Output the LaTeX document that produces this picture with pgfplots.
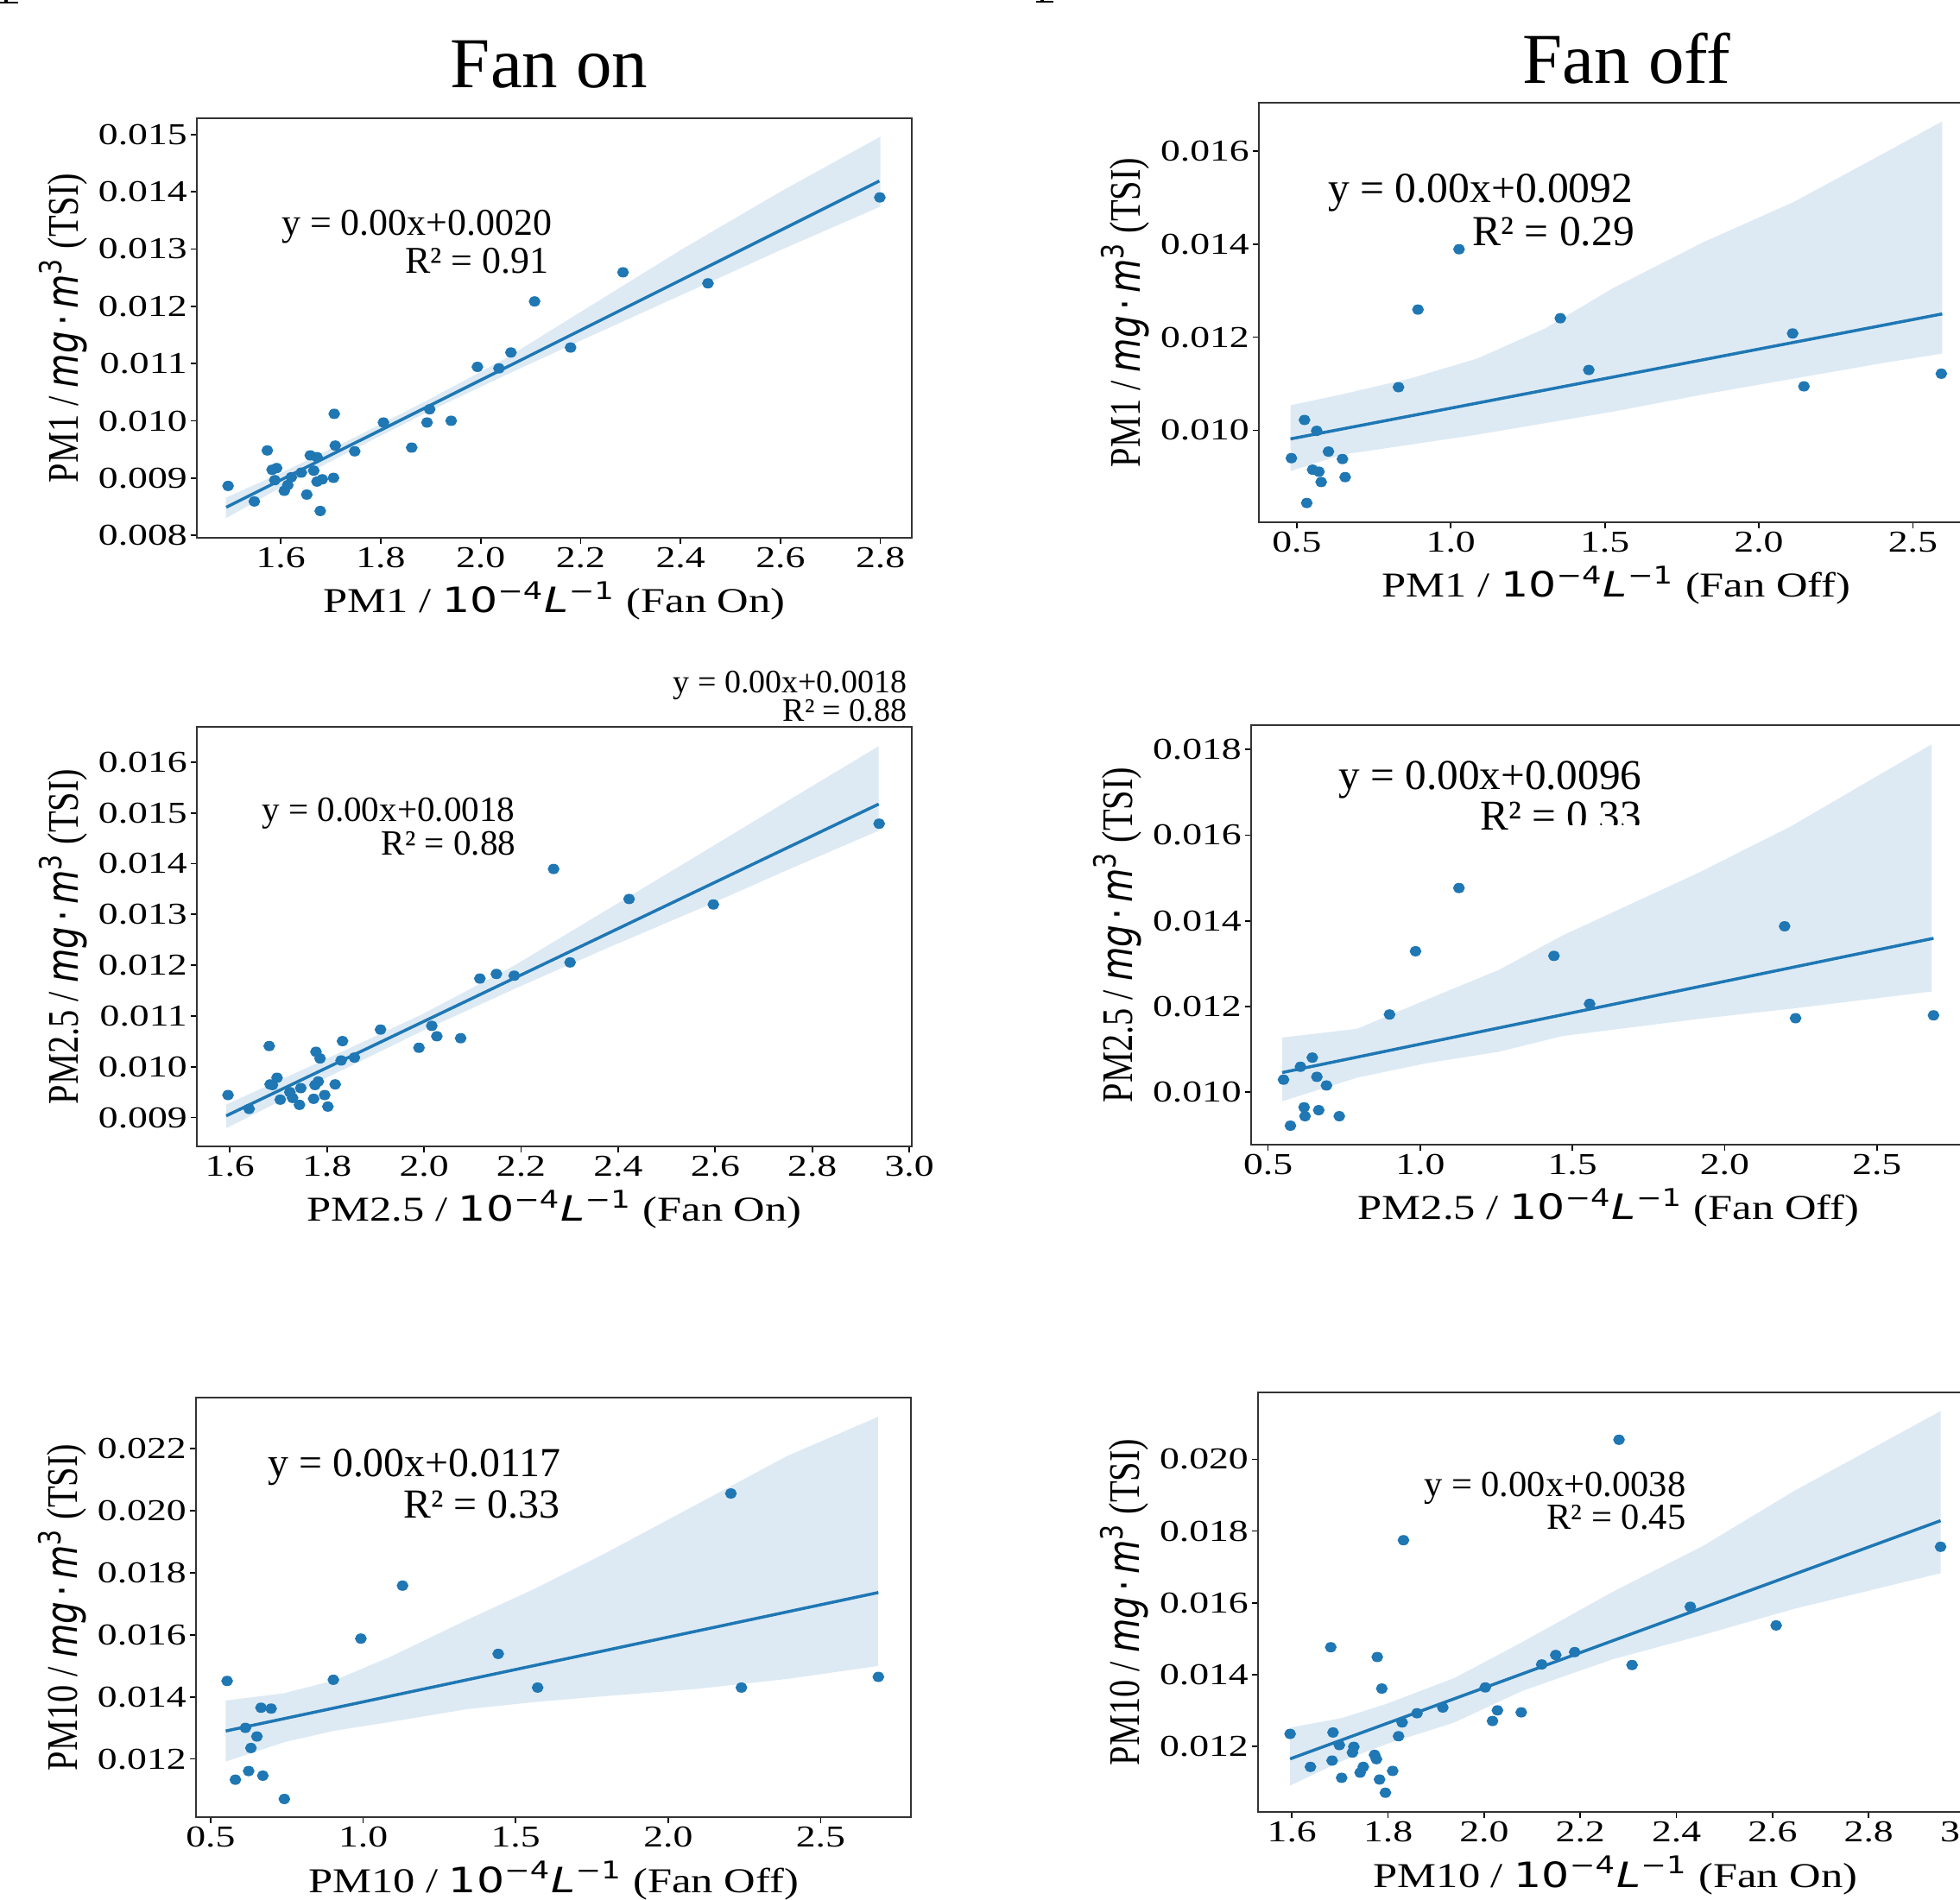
\documentclass[border=0pt]{standalone}
\usepackage{fontspec}
\setmainfont{Liberation Serif}
\newfontfamily\djv{DejaVu Sans}
\usepackage{graphicx}
\usepackage{pgfplots}
\pgfplotsset{compat=1.18}

\definecolor{tabblue}{HTML}{1F77B4}
\definecolor{band}{HTML}{DDEAF4}

% matplotlib-like pieces
\newcommand{\hs}[1]{\scalebox{1.3}[1]{#1}}
\newcommand{\invL}{{\djv 10\textsuperscript{−4}\textit{L}\textsuperscript{−1}}}
\newcommand{\mgm}{{\djv\itshape mg}\,{\djv ·}\,{\djv\itshape m}{\djv\textsuperscript{3}}}
\newcommand{\xlab}[2]{\scalebox{1.25}[1]{\fontsize{11.5}{13}\selectfont #1 / \invL\ (#2)}}
\newcommand{\ylab}[1]{\scalebox{1}[1.25]{\fontsize{11.5}{13}\selectfont #1 / \mgm\ (TSI)}}
\newcommand{\ann}[2]{\fontsize{#1}{#1}\selectfont #2}

\pgfplotsset{
  panel/.style={
    width=8.28cm, height=4.86cm, scale only axis, anchor=south west,
    axis line style={line width=0.6pt, black!80},
    tick pos=left, tick align=outside, major tick length=0.07cm,
    every tick/.style={black, line width=0.5pt},
    scaled ticks=false,
    xticklabel={\hs{\pgfmathprintnumber[fixed,fixed zerofill,precision=1,assume math mode=true]{\tick}}},
    yticklabel={\hs{\pgfmathprintnumber[fixed,fixed zerofill,precision=3,assume math mode=true]{\tick}}},
    ticklabel style={font=\fontsize{10}{12}\selectfont},
    xticklabel style={inner ysep=1pt},
    yticklabel style={inner xsep=1pt},
    xlabel style={at={(axis description cs:0.5,-0.179)}, anchor=base},
    ylabel style={at={(axis description cs:-0.187,0.5)}, anchor=center},
  },
  scat/.style={only marks, mark=*, mark size=1.5pt, color=tabblue,
    mark options={draw=tabblue, fill=tabblue, xscale=1.15}},
  fit/.style={tabblue, line width=1pt, no marks},
  ci/.style={fill=band, draw=none, no marks},
}

\begin{document}
\begin{tikzpicture}
\useasboundingbox (0,0) rectangle (22.70,22.00);
\clip (0,0) rectangle (22.70,22.00);

% ---------- PM1, fan on ----------
\begin{axis}[panel, at={(2.28cm,15.77cm)},
  xmin=1.432, xmax=2.863, ymin=0.00796, ymax=0.015282,
  xtick={1.6,1.8,2.0,2.2,2.4,2.6,2.8},
  ytick={0.008,0.009,0.010,0.011,0.012,0.013,0.014,0.015},
  xlabel={\xlab{PM1}{Fan On}}, ylabel={\ylab{PM1}}]
\addplot[ci] coordinates {(1.49,0.00866) (1.6,0.00909) (1.75,0.00972) (1.9,0.01039)
  (2.05,0.01109) (2.2,0.0119) (2.4,0.01298) (2.6,0.0140) (2.8,0.01496)
  (2.8,0.01374) (2.6,0.01298) (2.4,0.01219) (2.2,0.0114) (2.05,0.0108)
  (1.9,0.01018) (1.75,0.00952) (1.6,0.00884) (1.49,0.0083)} --cycle;
\addplot[scat] coordinates {
  (1.4945,0.008865) (1.547,0.008594) (1.573,0.009484) (1.5826,0.009147)
  (1.5917,0.009177) (1.588,0.008966) (1.607,0.00878) (1.614,0.00888)
  (1.621,0.009016) (1.641,0.009097) (1.652,0.008714) (1.659,0.009398)
  (1.6725,0.009368) (1.666,0.009132) (1.6725,0.008941) (1.683,0.008981)
  (1.679,0.008428) (1.7055,0.009006) (1.707,0.010123) (1.709,0.009569)
  (1.748,0.009469) (1.8055,0.009972) (1.862,0.009534) (1.8927,0.009972)
  (1.898,0.010203) (1.941,0.010002) (1.9936,0.010943) (2.0367,0.010917)
  (2.0606,0.011194) (2.108,0.012085) (2.18,0.01128) (2.285,0.012593)
  (2.455,0.012401) (2.799,0.0139)};
\addplot[fit] coordinates {(1.4908,0.008493) (2.798,0.014187)};
\end{axis}

% ---------- PM1, fan off ----------
\begin{axis}[panel, at={(14.58cm,15.95cm)},
  xmin=0.377, xmax=2.698, ymin=0.008025, ymax=0.017037,
  xtick={0.5,1.0,1.5,2.0,2.5}, ytick={0.010,0.012,0.014,0.016},
  xlabel={\xlab{PM1}{Fan Off}}, ylabel={\ylab{PM1}}]
\addplot[ci] coordinates {(0.4795,0.010537) (0.6467,0.010772) (0.8668,0.011111)
  (1.0869,0.011543) (1.307,0.012191) (1.5272,0.013056) (1.8206,0.014043)
  (2.1141,0.014907) (2.4076,0.015957) (2.5954,0.016636)
  (2.5954,0.011648) (2.4076,0.011451) (2.1141,0.011111) (1.8206,0.010772)
  (1.5272,0.010401) (1.307,0.010154) (1.0869,0.009907) (0.8668,0.009691)
  (0.6467,0.009475) (0.4795,0.009123)} --cycle;
\addplot[scat] coordinates {
  (0.4824,0.009401) (0.525,0.010222) (0.5323,0.008438) (0.5514,0.009154)
  (0.5646,0.009988) (0.5719,0.009111) (0.5792,0.008889) (0.6027,0.009543)
  (0.6482,0.009383) (0.657,0.008994) (0.8302,0.010926) (0.8933,0.012593)
  (1.0268,0.013889) (1.3555,0.012407) (1.4479,0.011296) (2.1097,0.01208)
  (2.1464,0.010944) (2.5924,0.011216)};
\addplot[fit] coordinates {(0.4795,0.009815) (2.5954,0.0125)};
\end{axis}

% ---------- PM2.5, fan on ----------
\begin{axis}[panel, at={(2.28cm,8.72cm)},
  xmin=1.532, xmax=3.005, ymin=0.008432, ymax=0.016695,
  xtick={1.6,1.8,2.0,2.2,2.4,2.6,2.8,3.0},
  ytick={0.009,0.010,0.011,0.012,0.013,0.014,0.015,0.016},
  xlabel={\xlab{PM2.5}{Fan On}}, ylabel={\ylab{PM2.5}}]
\addplot[ci] coordinates {(1.5925,0.009256) (1.8075,0.010193) (1.9962,0.011033)
  (2.1849,0.011987) (2.3736,0.013072) (2.5623,0.014156) (2.7509,0.015246)
  (2.9368,0.016314)
  (2.9368,0.01465) (2.7509,0.013884) (2.5623,0.013089) (2.3736,0.012322)
  (2.1849,0.011527) (1.9962,0.010704) (1.8075,0.009823) (1.5925,0.00879)} --cycle;
\addplot[scat] coordinates {
  (1.5962,0.009443) (1.6396,0.00917) (1.6811,0.010408) (1.683,0.009653)
  (1.6972,0.009784) (1.6877,0.00964) (1.7038,0.009352) (1.7236,0.0095)
  (1.7292,0.009386) (1.7434,0.00925) (1.7462,0.009579) (1.7726,0.009369)
  (1.7755,0.00964) (1.7774,0.010295) (1.7821,0.00971) (1.7858,0.010164)
  (1.7953,0.009443) (1.8019,0.009216) (1.817,0.009653) (1.8292,0.010124)
  (1.8321,0.010505) (1.8566,0.010181) (1.9104,0.010732) (1.9896,0.010374)
  (2.016,0.010806) (2.0264,0.010601) (2.0755,0.010562) (2.1151,0.011737)
  (2.1491,0.011828) (2.1858,0.011794) (2.267,0.013895) (2.3009,0.012055)
  (2.4226,0.013304) (2.5962,0.013196) (2.9377,0.014787)};
\addplot[fit] coordinates {(1.5925,0.009034) (2.9368,0.015173)};
\end{axis}

% ---------- PM2.5, fan off ----------
\begin{axis}[panel, at={(14.49cm,8.74cm)},
  xmin=0.4445, xmax=2.793, ymin=0.008772, ymax=0.01857,
  xtick={0.5,1.0,1.5,2.0,2.5}, ytick={0.010,0.012,0.014,0.016,0.018},
  xlabel={\xlab{PM2.5}{Fan Off}}, ylabel={\ylab{PM2.5}}]
\addplot[ci] coordinates {(0.5465,0.011275) (0.7926,0.011477) (1.0176,0.012148)
  (1.2577,0.012852) (1.4677,0.013658) (1.6928,0.014396) (1.9178,0.015134)
  (2.2179,0.016208) (2.6801,0.018121)
  (2.6801,0.012349) (2.2179,0.011946) (1.9178,0.011711) (1.6928,0.01151)
  (1.4677,0.011309) (1.2577,0.01094) (1.0176,0.010671) (0.7926,0.010336)
  (0.5465,0.009785)} --cycle;
\addplot[scat] coordinates {
  (0.551,0.010289) (0.5735,0.009215) (0.6065,0.010591) (0.6185,0.009644)
  (0.6215,0.009436) (0.6455,0.010805) (0.6605,0.010356) (0.6665,0.009577)
  (0.692,0.010154) (0.734,0.009436) (0.8991,0.011812) (0.9846,0.013289)
  (1.1272,0.014765) (1.4392,0.013181) (1.5563,0.01206) (2.1969,0.013872)
  (2.2329,0.011725) (2.6861,0.011792)};
\addplot[fit] coordinates {(0.5465,0.010456) (2.6861,0.013591)};
\end{axis}

% ---------- PM10, fan off ----------
\begin{axis}[panel, at={(2.27cm,0.95cm)},
  xmin=0.452, xmax=2.796, ymin=0.010126, ymax=0.023642,
  xtick={0.5,1.0,1.5,2.0,2.5}, ytick={0.012,0.014,0.016,0.018,0.020,0.022},
  xlabel={\xlab{PM10}{Fan Off}}, ylabel={\ylab{PM10}}]
\addplot[ci] coordinates {(0.5495,0.013883) (0.7402,0.014115) (0.9054,0.014532)
  (1.0856,0.015275) (1.3408,0.016481) (1.5661,0.017501) (1.7913,0.018614)
  (2.0916,0.020191) (2.3919,0.021768) (2.6877,0.02302)
  (2.6877,0.014996) (2.3919,0.014579) (2.0916,0.014254) (1.7913,0.014022)
  (1.5661,0.013837) (1.3408,0.013605) (1.0856,0.013187) (0.9054,0.012909)
  (0.7402,0.012538) (0.5495,0.011917)} --cycle;
\addplot[scat] coordinates {
  (0.554,0.014514) (0.5811,0.011332) (0.6141,0.013002) (0.6246,0.01161)
  (0.6321,0.012353) (0.6517,0.012724) (0.6652,0.013651) (0.6712,0.011462)
  (0.6982,0.013623) (0.7417,0.010711) (0.9024,0.014551) (0.9925,0.015878)
  (1.1291,0.017584) (1.4429,0.015386) (1.5721,0.0143) (2.2057,0.020553)
  (2.2402,0.0143) (2.6892,0.014644)};
\addplot[fit] coordinates {(0.5495,0.0129) (2.6892,0.017362)};
\end{axis}

% ---------- PM10, fan on ----------
\begin{axis}[panel, at={(14.57cm,1.01cm)},
  xmin=1.5295, xmax=3.017, ymin=0.010168, ymax=0.021864,
  xtick={1.6,1.8,2.0,2.2,2.4,2.6,2.8,3.0}, ytick={0.012,0.014,0.016,0.018,0.020},
  xlabel={\xlab{PM10}{Fan On}}, ylabel={\ylab{PM10}}]
\addplot[ci] coordinates {(1.5962,0.01252) (1.7034,0.012784) (1.7974,0.013184)
  (1.9383,0.013904) (2.0793,0.014904) (2.2673,0.016304) (2.4553,0.017584)
  (2.6432,0.019104) (2.9496,0.021344)
  (2.9496,0.016824) (2.6432,0.015824) (2.4553,0.015104) (2.2673,0.014424)
  (2.0793,0.013544) (1.9383,0.012664) (1.7974,0.012064) (1.7034,0.011584)
  (1.5962,0.010904)} --cycle;
\addplot[scat] coordinates {
  (1.5962,0.012344) (1.6385,0.011424) (1.6808,0.01476) (1.6836,0.0116)
  (1.6855,0.012384) (1.6987,0.012032) (1.7034,0.01112) (1.7259,0.011824)
  (1.7288,0.011984) (1.7419,0.011264) (1.7485,0.011424) (1.772,0.01176)
  (1.7758,0.01164) (1.7776,0.014488) (1.7823,0.011072) (1.787,0.013608)
  (1.7945,0.010704) (1.8096,0.011312) (1.8218,0.01228) (1.8293,0.012664)
  (1.8321,0.017744) (1.8603,0.01292) (1.9139,0.01308) (2.0023,0.01364)
  (2.0173,0.012704) (2.0276,0.013) (2.0771,0.012944) (2.1197,0.01428)
  (2.1489,0.014544) (2.1883,0.014624) (2.2805,0.020544) (2.3077,0.014264)
  (2.4289,0.015888) (2.6075,0.015368) (2.9496,0.01756)};
\addplot[fit] coordinates {(1.5962,0.011648) (2.9496,0.018288)};
\end{axis}

% ---------- titles ----------
\node[anchor=base, font=\fontsize{23.6}{28}\selectfont] at (6.36,20.98) {Fan on};
\node[anchor=base, font=\fontsize{23.6}{28}\selectfont] at (18.84,21.03) {Fan off};

% ---------- fit annotations ----------
\node[anchor=base east, inner sep=0pt] at (6.40,19.27) {\ann{12.5}{y = 0.00x+0.0020}};
\node[anchor=base east, inner sep=0pt] at (6.36,18.83) {\ann{12.5}{R² = 0.91}};

\node[anchor=base east, inner sep=0pt, fill=white] at (18.92,19.65) {\ann{14.1}{y = 0.00x+0.0092}};
\node[anchor=base east, inner sep=0pt, fill=white] at (18.935,19.15) {\ann{14.1}{R² = 0.29}};

\node[anchor=base east, inner sep=0pt] at (5.97,12.48) {\ann{11.7}{y = 0.00x+0.0018}};
\node[anchor=base east, inner sep=0pt] at (5.98,12.09) {\ann{11.7}{R² = 0.88}};
\node[anchor=base east, inner sep=0pt] at (10.51,13.97) {\ann{10.8}{y = 0.00x+0.0018}};
\node[anchor=base east, inner sep=0pt] at (10.51,13.64) {\ann{10.8}{R² = 0.88}};

\node[anchor=base east, inner sep=0pt] at (19.02,12.85) {\ann{14}{y = 0.00x+0.0096}};
\node[anchor=base east, inner sep=0pt] at (19.016,12.383) {\ann{14}{R² = 0.33}};
\fill[white] (17.80,12.30) rectangle (19.10,12.44);

\node[anchor=base east, inner sep=0pt] at (6.50,4.90) {\ann{13.6}{y = 0.00x+0.0117}};
\node[anchor=base east, inner sep=0pt] at (6.49,4.417) {\ann{13.6}{R² = 0.33}};

\node[anchor=base east, inner sep=0pt] at (19.53,4.66) {\ann{12.1}{y = 0.00x+0.0038}};
\node[anchor=base east, inner sep=0pt] at (19.53,4.283) {\ann{12.1}{R² = 0.45}};

% cropped remnants at the top edge
\fill[black] (0.0,21.955) rectangle (0.21,21.975);
\fill[black] (0.05,21.975) rectangle (0.09,22.0);
\fill[black] (12.0,21.965) rectangle (12.2,21.985);
\fill[black] (12.05,21.985) rectangle (12.09,22.0);
\end{tikzpicture}
\end{document}
